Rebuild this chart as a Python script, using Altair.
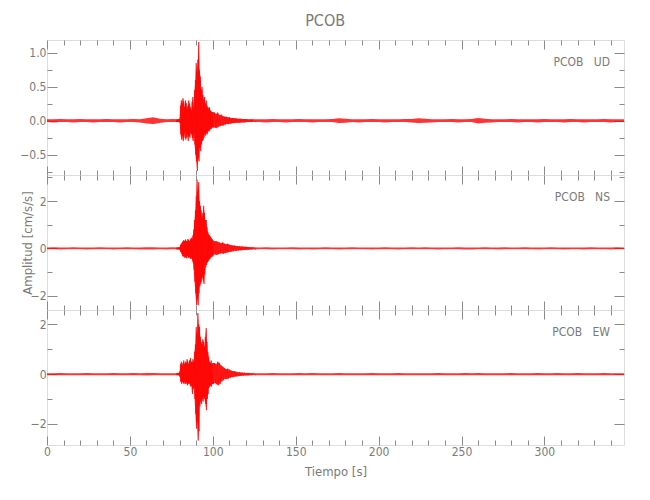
import altair as alt
import pandas as pd

# ---------------- data ----------------
# sample times (s): quiet start, main event, coda, quiet end
tiempo = [
    0, 4, 8, 12, 16, 20, 24, 28, 32, 36, 40, 44, 48, 52, 56, 60, 64, 68, 72, 76,
    78, 78.5, 79, 79.5, 80, 80.5, 81, 81.5, 82,
    82.5, 83, 83.5, 84, 84.5, 85, 85.5, 86, 86.5,
    87, 87.5, 88, 88.5, 89, 89.5, 90, 90.5, 91,
    91.5, 92, 92.5, 93, 93.5, 94, 94.5, 95, 95.5,
    96, 96.5, 97, 97.5, 98, 98.5, 99, 99.5, 100,
    101, 102, 103, 104, 105, 106, 107, 108,
    109, 110, 111, 112, 113, 114, 115, 116,
    117, 118, 119, 120, 121, 122, 123, 124,
    128, 132, 136, 140, 144, 148, 152, 156,
    160, 164, 168, 172, 176, 180, 184, 188,
    192, 196, 200, 204, 208, 212, 216, 220,
    224, 228, 232, 236, 240, 244, 248, 252,
    256, 260, 264, 268, 272, 276, 280, 284,
    288, 292, 296, 300, 304, 308, 312, 316,
    320, 324, 328, 332, 336, 340, 344, 348,
]

# UD component: upper / lower envelope (cm/s/s)
ud_max = [
    0.02, 0.02, 0.025, 0.02, 0.02, 0.025, 0.02, 0.02, 0.02, 0.025, 0.02, 0.02, 0.02, 0.025, 0.02, 0.035, 0.05, 0.03, 0.02, 0.025,
    0.02, 0.02, 0.02, 0.025, 0.03, 0.22, 0.3, 0.25, 0.33,
    0.28, 0.2, 0.3, 0.26, 0.18, 0.22, 0.3, 0.25, 0.2,
    0.15, 0.28, 0.35, 0.2, 0.45, 0.6, 0.85, 0.72, 0.9,
    1.16, 0.75, 0.65, 0.45, 0.5, 0.38, 0.32, 0.35, 0.25,
    0.3, 0.22, 0.2, 0.18, 0.2, 0.15, 0.14, 0.12, 0.13,
    0.12, 0.1, 0.12, 0.08, 0.09, 0.07, 0.06, 0.06,
    0.05, 0.05, 0.04, 0.04, 0.035, 0.035, 0.03, 0.03,
    0.03, 0.025, 0.025, 0.025, 0.02, 0.02, 0.02, 0.02,
    0.02, 0.02, 0.025, 0.02, 0.02, 0.02, 0.025, 0.02,
    0.02, 0.02, 0.02, 0.025, 0.035, 0.03, 0.02, 0.02,
    0.02, 0.025, 0.02, 0.02, 0.02, 0.02, 0.025, 0.025,
    0.035, 0.03, 0.02, 0.02, 0.02, 0.025, 0.02, 0.02,
    0.025, 0.04, 0.03, 0.02, 0.02, 0.02, 0.025, 0.02,
    0.02, 0.02, 0.02, 0.025, 0.02, 0.02, 0.02, 0.025,
    0.02, 0.02, 0.02, 0.02, 0.025, 0.02, 0.02, 0.02,
]
ud_min = [
    -0.02, -0.025, -0.02, -0.02, -0.025, -0.02, -0.02, -0.025, -0.02, -0.02, -0.02, -0.025, -0.02, -0.02, -0.025, -0.04, -0.05, -0.035, -0.02, -0.02,
    -0.02, -0.02, -0.02, -0.02, -0.03, -0.2, -0.28, -0.22, -0.3,
    -0.25, -0.18, -0.28, -0.25, -0.2, -0.3, -0.22, -0.25, -0.18,
    -0.2, -0.25, -0.3, -0.2, -0.35, -0.5, -0.6, -0.74, -0.55,
    -0.6, -0.4, -0.45, -0.35, -0.3, -0.28, -0.25, -0.2, -0.22,
    -0.18, -0.2, -0.15, -0.16, -0.14, -0.12, -0.12, -0.1, -0.1,
    -0.1, -0.11, -0.09, -0.08, -0.07, -0.07, -0.06, -0.05,
    -0.05, -0.045, -0.04, -0.035, -0.035, -0.03, -0.03, -0.03,
    -0.025, -0.025, -0.025, -0.02, -0.02, -0.02, -0.02, -0.02,
    -0.02, -0.025, -0.02, -0.02, -0.025, -0.02, -0.02, -0.02,
    -0.025, -0.02, -0.02, -0.02, -0.035, -0.03, -0.02, -0.025,
    -0.02, -0.02, -0.02, -0.025, -0.02, -0.02, -0.02, -0.025,
    -0.035, -0.03, -0.025, -0.02, -0.02, -0.02, -0.025, -0.02,
    -0.02, -0.04, -0.03, -0.025, -0.02, -0.02, -0.02, -0.025,
    -0.02, -0.02, -0.025, -0.02, -0.02, -0.02, -0.025, -0.02,
    -0.02, -0.025, -0.02, -0.02, -0.02, -0.025, -0.02, -0.02,
]

# NS component
ns_max = [
    0.04, 0.045, 0.04, 0.04, 0.045, 0.04, 0.04, 0.04, 0.045, 0.04, 0.04, 0.04, 0.045, 0.04, 0.04, 0.05, 0.05, 0.04, 0.04, 0.045,
    0.04, 0.04, 0.04, 0.05, 0.05, 0.15, 0.2, 0.25, 0.3,
    0.35, 0.3, 0.38, 0.32, 0.3, 0.4, 0.35, 0.3, 0.38,
    0.45, 0.4, 0.55, 0.8, 1.2, 1.6, 2.2, 2.9, 2.4,
    2.8, 2.0, 1.8, 1.6, 1.3, 1.5, 1.8, 1.5, 1.2,
    1.2, 0.9, 0.7, 0.6, 0.55, 0.5, 0.45, 0.4, 0.35,
    0.3, 0.3, 0.28, 0.25, 0.22, 0.25, 0.2, 0.18,
    0.2, 0.15, 0.14, 0.12, 0.12, 0.1, 0.1, 0.09,
    0.08, 0.08, 0.07, 0.07, 0.06, 0.06, 0.05, 0.05,
    0.04, 0.045, 0.04, 0.04, 0.04, 0.045, 0.04, 0.04,
    0.04, 0.04, 0.045, 0.04, 0.04, 0.04, 0.045, 0.04,
    0.04, 0.04, 0.04, 0.045, 0.04, 0.04, 0.04, 0.045,
    0.04, 0.045, 0.04, 0.04, 0.04, 0.04, 0.045, 0.04,
    0.04, 0.04, 0.045, 0.04, 0.04, 0.045, 0.04, 0.04,
    0.045, 0.04, 0.04, 0.04, 0.045, 0.04, 0.04, 0.04,
    0.04, 0.04, 0.045, 0.04, 0.04, 0.04, 0.045, 0.04,
]
ns_min = [
    -0.04, -0.04, -0.045, -0.04, -0.04, -0.04, -0.045, -0.04, -0.04, -0.04, -0.045, -0.04, -0.04, -0.04, -0.045, -0.05, -0.05, -0.04, -0.045, -0.04,
    -0.04, -0.04, -0.04, -0.05, -0.05, -0.15, -0.2, -0.3, -0.35,
    -0.3, -0.4, -0.35, -0.42, -0.3, -0.38, -0.4, -0.35, -0.45,
    -0.4, -0.5, -0.6, -0.9, -1.4, -1.9, -2.4, -2.1, -2.4,
    -1.9, -1.6, -1.5, -1.4, -1.2, -1.3, -1.5, -1.1, -0.8,
    -0.7, -0.6, -0.55, -0.5, -0.45, -0.4, -0.35, -0.35, -0.3,
    -0.25, -0.28, -0.25, -0.22, -0.2, -0.22, -0.2, -0.18,
    -0.16, -0.15, -0.13, -0.12, -0.1, -0.1, -0.09, -0.08,
    -0.08, -0.07, -0.07, -0.06, -0.06, -0.05, -0.05, -0.05,
    -0.04, -0.04, -0.045, -0.04, -0.04, -0.04, -0.045, -0.04,
    -0.045, -0.04, -0.04, -0.04, -0.045, -0.04, -0.04, -0.04,
    -0.04, -0.045, -0.04, -0.04, -0.04, -0.045, -0.04, -0.04,
    -0.04, -0.04, -0.04, -0.045, -0.04, -0.04, -0.04, -0.045,
    -0.045, -0.04, -0.04, -0.04, -0.045, -0.04, -0.04, -0.04,
    -0.04, -0.04, -0.045, -0.04, -0.04, -0.04, -0.045, -0.04,
    -0.04, -0.045, -0.04, -0.04, -0.04, -0.045, -0.04, -0.04,
]

# EW component
ew_max = [
    0.04, 0.04, 0.045, 0.04, 0.04, 0.04, 0.045, 0.04, 0.04, 0.04, 0.045, 0.04, 0.04, 0.045, 0.04, 0.05, 0.045, 0.04, 0.04, 0.04,
    0.04, 0.04, 0.04, 0.05, 0.1, 0.4, 0.5, 0.35, 0.45,
    0.55, 0.4, 0.5, 0.45, 0.6, 0.5, 0.4, 0.55, 0.65,
    0.5, 0.45, 0.6, 0.5, 0.9, 1.2, 1.9, 1.6, 2.46,
    2.0, 1.9, 1.5, 1.3, 1.2, 1.4, 1.3, 1.1, 1.5,
    1.85, 1.3, 0.9, 0.7, 0.5, 0.45, 0.55, 0.4, 0.45,
    0.45, 0.4, 0.5, 0.45, 0.35, 0.3, 0.25, 0.2,
    0.22, 0.18, 0.15, 0.12, 0.12, 0.1, 0.08, 0.08,
    0.07, 0.06, 0.06, 0.05, 0.05, 0.05, 0.04, 0.04,
    0.04, 0.04, 0.045, 0.04, 0.04, 0.04, 0.045, 0.04,
    0.045, 0.04, 0.04, 0.04, 0.045, 0.04, 0.04, 0.04,
    0.04, 0.045, 0.04, 0.04, 0.04, 0.045, 0.04, 0.04,
    0.04, 0.04, 0.04, 0.045, 0.04, 0.04, 0.04, 0.045,
    0.04, 0.045, 0.04, 0.04, 0.04, 0.04, 0.045, 0.04,
    0.04, 0.04, 0.045, 0.04, 0.04, 0.045, 0.04, 0.04,
    0.045, 0.04, 0.04, 0.04, 0.045, 0.04, 0.04, 0.04,
]
ew_min = [
    -0.04, -0.045, -0.04, -0.04, -0.04, -0.045, -0.04, -0.04, -0.045, -0.04, -0.04, -0.04, -0.045, -0.04, -0.04, -0.05, -0.045, -0.04, -0.04, -0.045,
    -0.04, -0.04, -0.04, -0.05, -0.1, -0.3, -0.4, -0.3, -0.35,
    -0.4, -0.3, -0.4, -0.35, -0.45, -0.4, -0.35, -0.4, -0.5,
    -0.45, -0.8, -0.6, -0.5, -1.0, -1.6, -2.2, -1.9, -2.67,
    -2.3, -1.3, -1.1, -1.2, -1.0, -1.1, -0.9, -1.0, -1.2,
    -1.45, -1.0, -0.8, -0.55, -0.5, -0.45, -0.5, -0.4, -0.4,
    -0.35, -0.4, -0.45, -0.4, -0.3, -0.25, -0.2, -0.2,
    -0.18, -0.15, -0.12, -0.12, -0.1, -0.09, -0.08, -0.07,
    -0.06, -0.06, -0.05, -0.05, -0.05, -0.04, -0.04, -0.04,
    -0.045, -0.04, -0.04, -0.04, -0.045, -0.04, -0.04, -0.04,
    -0.04, -0.04, -0.045, -0.04, -0.04, -0.04, -0.045, -0.04,
    -0.04, -0.04, -0.04, -0.045, -0.04, -0.04, -0.04, -0.045,
    -0.045, -0.04, -0.04, -0.04, -0.045, -0.04, -0.04, -0.04,
    -0.04, -0.04, -0.045, -0.04, -0.04, -0.04, -0.045, -0.04,
    -0.04, -0.045, -0.04, -0.04, -0.04, -0.045, -0.04, -0.04,
    -0.04, -0.04, -0.04, -0.045, -0.04, -0.04, -0.045, -0.04,
]

# axis ranges / ticks
x_dominio = [0, 348]
x_mayores = [0, 50, 100, 150, 200, 250, 300]
x_menores = [10, 20, 30, 40, 60, 70, 80, 90, 110, 120, 130, 140, 160, 170, 180, 190,
             210, 220, 230, 240, 260, 270, 280, 290, 310, 320, 330, 340]
ud_dominio = [-0.80, 1.19]
ns_dominio = [-2.6, 3.1]
ew_dominio = [-2.85, 2.58]
ud_mayores = [-0.5, 0.0, 0.5, 1.0]
ud_menores = [-0.75, -0.25, 0.25, 0.75]
ns_mayores = [-2, 0, 2]
ns_menores = [-1, 1, 3]
ew_mayores = [-2, 0, 2]
ew_menores = [-1, 1]

# ---------------- styling ----------------
RED = "#ff0000"
GRAY = "#8a8a8a"
TXT = "#7a7a7a"
FONT = "Liberation Sans Narrow, DejaVu Sans Condensed, Liberation Sans, sans-serif"
W, H = 577, 135


def eje(orient, values, size, labels=False, fmt=None, title=None, title_pad=None, label_pad=None):
    kw = dict(orient=orient, values=values, tickSize=size, offset=-size,
              domain=False, grid=False, ticks=True, labels=labels,
              tickColor=GRAY, tickWidth=1, title=title, labelFlush=False,
              labelColor=TXT, labelFont=FONT, labelFontSize=12,
              titleColor=TXT, titleFont=FONT, titleFontSize=13,
              titleFontWeight="normal")
    if fmt is not None:
        kw["format"] = fmt
    if title_pad is not None:
        kw["titlePadding"] = title_pad
    if label_pad is not None:
        kw["labelPadding"] = label_pad
    return alt.Axis(**kw)


def panel(vmax, vmin, ydom, ymaj, ymin, yfmt, etiqueta, ytitle=None, bottom=False):
    env = pd.DataFrame({"t": tiempo, "hi": vmax, "lo": vmin})
    zt, za, zo = [], [], []
    for i, t in enumerate(tiempo):
        if t < 78 or t > 124:
            continue
        step = tiempo[i + 1] - t
        zt += [t, t + step / 2]
        za += [vmax[i], vmin[i]]
        zo += [2 * i, 2 * i + 1]
    zig = pd.DataFrame({"t": zt, "a": za, "o": zo})

    xs = alt.Scale(domain=x_dominio, nice=False, zero=False)
    ys = alt.Scale(domain=ydom, nice=False, zero=False)

    area = alt.Chart(env).mark_area(color=RED, opacity=0.8, clip=True).encode(
        x=alt.X("t:Q", scale=xs,
                axis=eje("bottom", x_mayores, 9, labels=bottom,
                         title="Tiempo [s]" if bottom else None, title_pad=8,
                         label_pad=1)),
        y=alt.Y("hi:Q", scale=ys,
                axis=eje("left", ymaj, 10, labels=True, fmt=yfmt,
                         title=ytitle, title_pad=-4, label_pad=1)),
        y2="lo:Q",
    )
    linea = alt.Chart(zig).mark_line(color=RED, strokeWidth=0.6, clip=True).encode(
        x=alt.X("t:Q", scale=xs, axis=eje("top", x_mayores, 9)),
        y=alt.Y("a:Q", scale=ys, axis=eje("right", ymaj, 10)),
        order="o:Q",
    )
    menor1 = alt.Chart(env).mark_line(opacity=0).encode(
        x=alt.X("t:Q", scale=xs, axis=eje("bottom", x_menores, 5)),
        y=alt.Y("hi:Q", scale=ys, axis=eje("left", ymin, 5)),
    )
    menor2 = alt.Chart(env).mark_line(opacity=0).encode(
        x=alt.X("t:Q", scale=xs, axis=eje("top", x_menores, 5)),
        y=alt.Y("hi:Q", scale=ys, axis=eje("right", ymin, 5)),
    )
    texto = alt.Chart(pd.DataFrame({"etq": [etiqueta]})).mark_text(
        align="right", baseline="middle", font=FONT, fontSize=12, color=TXT
    ).encode(x=alt.value(W - 14), y=alt.value(22), text="etq:N")

    return alt.layer(area, linea, menor1, menor2, texto).resolve_axis(
        x="independent", y="independent"
    ).properties(width=W, height=H)


sp = "\u00a0\u00a0\u00a0"
p1 = panel(ud_max, ud_min, ud_dominio, ud_mayores, ud_menores, ".1f", "PCOB" + sp + "UD")
p2 = panel(ns_max, ns_min, ns_dominio, ns_mayores, ns_menores, "d", "PCOB" + sp + "NS",
           ytitle="Amplitud [cm/s/s]")
p3 = panel(ew_max, ew_min, ew_dominio, ew_mayores, ew_menores, "d", "PCOB" + sp + "EW",
           bottom=True)

chart = alt.vconcat(p1, p2, p3, spacing=0, bounds="flush").resolve_scale(
    x="independent", y="independent"
).properties(
    title=alt.TitleParams("PCOB", fontSize=16, font=FONT, color=TXT,
                          fontWeight="normal", anchor="middle", offset=10, dx=3),
    padding={"left": 11, "top": 5, "right": 5, "bottom": 5},
).configure_view(stroke=GRAY, strokeWidth=1).configure(background="white")

chart.save("out.html", embed_options={"renderer": "svg", "actions": False})
